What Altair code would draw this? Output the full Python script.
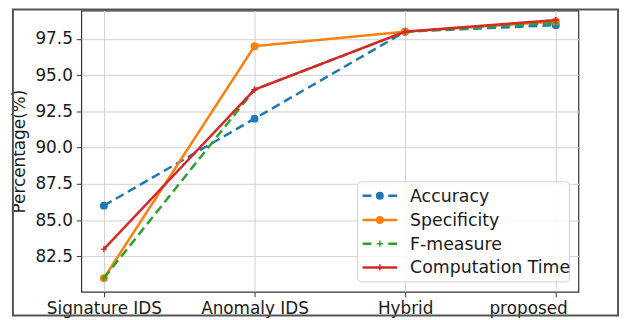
import altair as alt
import pandas as pd

categories = ["Signature IDS", "Anomaly IDS", "Hybrid", "proposed"]
series = ["Accuracy", "Specificity", "F-measure", "Computation Time"]
accuracy = [86.0, 92.0, 98.0, 98.45]
specificity = [81.0, 97.0, 98.0, 98.7]
f_measure = [81.0, 94.0, 98.0, 98.6]
computation_time = [83.0, 94.0, 98.0, 98.8]
y_ticks = [82.5, 85.0, 87.5, 90.0, 92.5, 95.0, 97.5]

colors = ["#1f77b4", "#ff7f0e", "#2ca02c", "#d62728"]
dashes = [[9, 5], [1, 0], [9, 5], [1, 0]]
markers = ["circle", "circle", "plus", "plus"]
values = [accuracy, specificity, f_measure, computation_time]

PLUS = "M-1,0L1,0M0,-1L0,1"
FONT = "DejaVu Sans"
FS = 17

rows = []
for s, vals in zip(series, values):
    for c, v in zip(categories, vals):
        rows.append({"series": s, "category": c, "value": v})
df = pd.DataFrame(rows)

x_enc = alt.X(
    "category:N",
    sort=categories,
    scale=alt.Scale(type="point", padding=0.15),
    axis=alt.Axis(title=None, labelAngle=0, grid=True, gridColor="#cfcfcf",
                  ticks=True, tickSize=5, labelPadding=4, domain=False,
                  labelOffset={"condition": {"test": "datum.value === 'proposed'", "value": -28},
                               "value": 0}),
)
y_enc = alt.Y(
    "value:Q",
    scale=alt.Scale(domain=[80.06, 99.46], nice=False, zero=False),
    axis=alt.Axis(title="Percentage(%)", values=y_ticks, format=".1f",
                  grid=True, gridColor="#cfcfcf", ticks=True, tickSize=5,
                  labelPadding=4, domain=False, titlePadding=6),
)

layers = []
# outer frame
layers.append(
    alt.Chart(pd.DataFrame({"a": [0]})).mark_rect(
        fill=None, stroke="#555555", strokeWidth=2
    ).encode(x=alt.value(-69), x2=alt.value(542), y=alt.value(-1), y2=alt.value(308))
)

for s, col, dash, mk in zip(series, colors, dashes, markers):
    sub = df[df["series"] == s]
    base = alt.Chart(sub).encode(x=x_enc, y=y_enc)
    layers.append(base.mark_line(color=col, strokeWidth=2.5, strokeDash=dash))
    if mk == "circle":
        layers.append(base.mark_point(shape="circle", filled=True, color=col,
                                      size=64, opacity=1))
    else:
        layers.append(base.mark_point(shape=PLUS, filled=False, color=col,
                                      size=40, strokeWidth=1.5, opacity=1))

# legend box
layers.append(
    alt.Chart(pd.DataFrame({"a": [0]})).mark_rect(
        fill="white", fillOpacity=0.85, stroke="#d0d0d0", strokeWidth=1, cornerRadius=4
    ).encode(x=alt.value(279), x2=alt.value(493), y=alt.value(173), y2=alt.value(274))
)
row_y = [187, 211.5, 235.5, 259.5]
leg_dashes = [[9, 17], [1, 0], [9, 17], [1, 0]]
for s, col, dash, mk, yy in zip(series, colors, leg_dashes, markers, row_y):
    one = alt.Chart(pd.DataFrame({"a": [0]}))
    layers.append(one.mark_rule(color=col, strokeWidth=2.5, strokeDash=dash).encode(
        x=alt.value(284), x2=alt.value(319), y=alt.value(yy)))
    if mk == "circle":
        layers.append(one.mark_point(shape="circle", filled=True, color=col, size=64,
                                     opacity=1).encode(x=alt.value(301.5), y=alt.value(yy)))
    else:
        layers.append(one.mark_point(shape=PLUS, filled=False, color=col, size=40,
                                     strokeWidth=1.5, opacity=1).encode(
            x=alt.value(301.5), y=alt.value(yy)))
    layers.append(one.mark_text(align="left", baseline="middle", font=FONT,
                                fontSize=17.5, color="#1a1a1a").encode(
        x=alt.value(332), y=alt.value(yy + 1), text=alt.value(s)))

chart = alt.layer(*layers).properties(
    width=502, height=284,
    background="white",
    autosize=alt.AutoSizeParams(type="none"),
    padding={"left": 74, "top": 1, "right": 44, "bottom": 27},
).configure_view(stroke="#333333", strokeWidth=1.2).configure_axis(
    labelFont=FONT, titleFont=FONT, labelFontSize=FS, titleFontSize=FS,
    titleFontWeight="normal", labelColor="#1a1a1a", titleColor="#1a1a1a",
    tickColor="#333333",
)

chart.save("out.html", embed_options={"renderer": "svg", "actions": False})
